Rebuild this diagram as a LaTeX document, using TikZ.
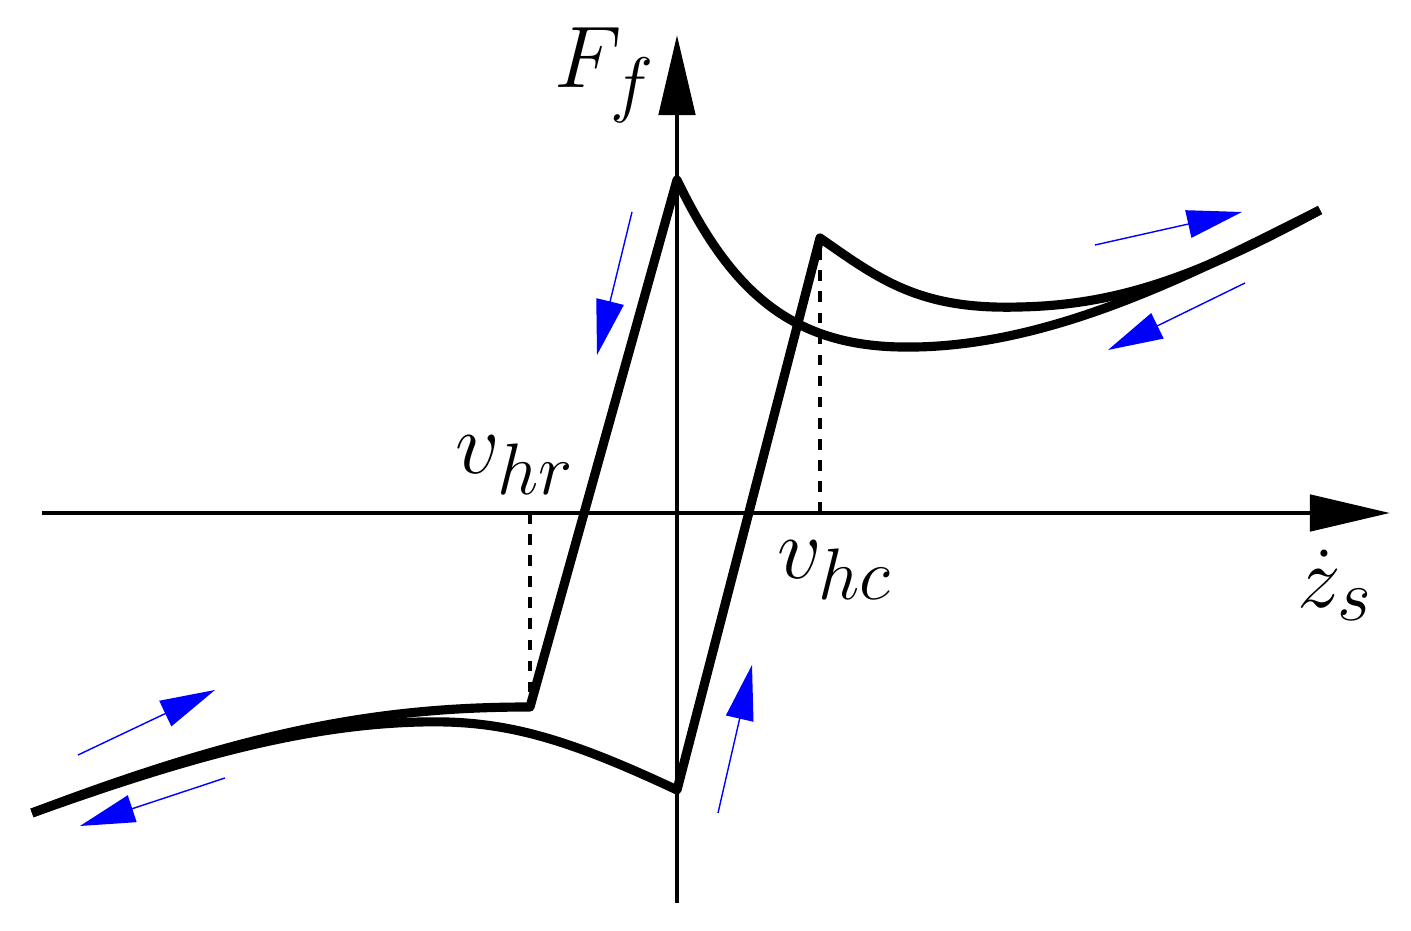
\documentclass[tikz,border=0pt]{standalone}
\usepackage{amsmath}
\usepackage{tikz}
\usetikzlibrary{arrows.meta}
\tikzset{
	axis/.style = {
		line width=1.4pt,
		-{Triangle[length=0.8cm,width=0.36cm]}
	},
	curve/.style = {
		line width=2.6pt,
		black,
		line join=round
	},
	guide/.style = {
		dashed,
		line width=1.3pt
	},
	motion/.style = {
		blue,
		line width=0.4pt,
		-{Triangle[length=0.55cm,width=0.28cm]}
	},
	label/.style = {
		font=\fontsize{30}{34}\selectfont
	}
}

\begin{document}
\begin{tikzpicture}[x=0.01cm,y=-0.01cm]
\useasboundingbox (0,0) rectangle (1411,931);
\coordinate (xs) at (42,513);
\coordinate (xe) at (1390,513);
\coordinate (ys) at (677,903);
\coordinate (ye) at (677,35);
\draw[axis] (xs) -- (xe);
\draw[axis] (ys) -- (ye);

\coordinate (top) at (677,180);
\coordinate (bot) at (677,790);
\coordinate (hc) at (820,238);
\coordinate (hr) at (530,707);
\coordinate (hcx) at (820,513);
\coordinate (hrx) at (530,513);
\coordinate (rend) at (1320,210);
\coordinate (lend) at (32,813);

\draw[curve] (lend) .. controls (250,730) and (380,707) .. (hr) -- (top)
	.. controls (730,290) and (790,345) .. (900,347)
	.. controls (1050,350) and (1200,270) .. (rend);
\draw[curve] (rend) .. controls (1200,275) and (1120,305) .. (1020,307)
	.. controls (920,310) and (880,280) .. (hc) -- (bot)
	.. controls (560,735) and (500,720) .. (420,722)
	.. controls (300,725) and (180,760) .. (lend);
\draw[guide] (hrx) -- (hr);
\draw[guide] (hcx) -- (hc);

\draw[motion] (632,212) -- (597,355);
\draw[motion] (1095,245) -- (1242,212);
\draw[motion] (1245,283) -- (1108,350);
\draw[motion] (78,755) -- (215,690);
\draw[motion] (225,778) -- (80,826);
\draw[motion] (718,813) -- (752,665);

\node[label] (ff) at (605,75) {$F_f$};
\node[label] (vhr) at (515,465) {$v_{hr}$};
\node[label] (vhc) at (835,570) {$v_{hc}$};
\node[label] (zs) at (1335,585) {$\dot{z}_s$};
\end{tikzpicture}
\end{document}
